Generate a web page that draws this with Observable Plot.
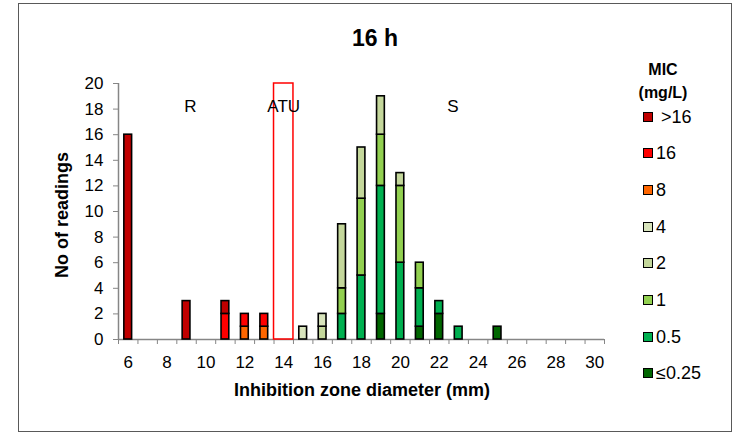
<!DOCTYPE html>
<html><head><meta charset="utf-8">
<script src="https://cdn.jsdelivr.net/npm/d3@7"></script>
<script src="https://cdn.jsdelivr.net/npm/@observablehq/plot@0.6"></script>
<style>
body{margin:0;background:#fff;font-family:Arial,"Liberation Sans",sans-serif;}
#wrap{position:relative;width:738px;height:434px;overflow:hidden;background:#fff}
#wrap svg{position:absolute;left:0;top:0}
.frame{position:absolute;left:18px;top:3px;width:714px;height:429px;box-sizing:border-box;border:1px solid #595959}
.t{position:absolute;white-space:nowrap;color:#000}
.title{left:375px;top:38px;transform:translate(-50%,-50%);font-weight:bold;font-size:23px}
.xt{left:362px;top:390px;transform:translate(-50%,-50%);font-weight:bold;font-size:18px}
.yt{left:62px;top:215px;transform:translate(-50%,-50%) rotate(-90deg);font-weight:bold;font-size:18px}
.lh{left:663px;transform:translate(-50%,-50%);font-weight:bold;font-size:16px}
.li{left:643px;transform:translateY(-50%);font-size:18px;display:flex;align-items:center;line-height:20px}
.sw{display:block;flex:0 0 auto;box-sizing:border-box;width:10px;height:10px;border:1.5px solid #000;margin-right:3px}
</style></head><body><div id="wrap"></div>
<script>
// Inhibition zone diameters (mm) with readings
const diameters = [6, 9, 11, 12, 13, 15, 16, 17, 18, 19, 20, 21, 22, 23, 25];
// number of readings per MIC class (mg/L), aligned with diameters
const micLe025 = [0, 0, 0, 0, 0, 0, 0, 0, 0, 2, 0, 1, 2, 0, 1];
const mic05    = [0, 0, 0, 0, 0, 0, 0, 2, 5, 10, 6, 3, 1, 1, 0];
const mic1     = [0, 0, 0, 0, 0, 0, 0, 2, 6, 4, 6, 2, 0, 0, 0];
const mic2     = [0, 0, 0, 0, 0, 0, 1, 5, 4, 3, 1, 0, 0, 0, 0];
const mic4     = [0, 0, 0, 0, 0, 1, 1, 0, 0, 0, 0, 0, 0, 0, 0];
const mic8     = [0, 0, 0, 1, 1, 0, 0, 0, 0, 0, 0, 0, 0, 0, 0];
const mic16    = [0, 0, 2, 1, 1, 0, 0, 0, 0, 0, 0, 0, 0, 0, 0];
const micGt16  = [16, 3, 1, 0, 0, 0, 0, 0, 0, 0, 0, 0, 0, 0, 0];

// MIC classes, bottom of stack first
const micLabels = ["≤0.25", "0.5", "1", "2", "4", "8", "16", ">16"];
const micSeries = [micLe025, mic05, mic1, mic2, mic4, mic8, mic16, micGt16];
const micColors = ["#006600", "#00b050", "#92d050", "#c4d79b", "#d8e4bc", "#ff6600", "#ff0000", "#c00000"];

// axis ticks
const xTickLabels = [6, 8, 10, 12, 14, 16, 18, 20, 22, 24, 26, 28, 30];
const xCategoryEdges = [5.5, 6.5, 7.5, 8.5, 9.5, 10.5, 11.5, 12.5, 13.5, 14.5, 15.5, 16.5, 17.5, 18.5, 19.5, 20.5, 21.5, 22.5, 23.5, 24.5, 25.5, 26.5, 27.5, 28.5, 29.5, 30.5];
const yTicks = [0, 2, 4, 6, 8, 10, 12, 14, 16, 18, 20];

// breakpoint zones
const atuZone = [{from: 13.5, to: 14.5, bottom: 0, top: 20}];
const zoneLabels = [
  {label: "R", x: 9.2, y: 18.2},
  {label: "ATU", x: 14.0, y: 18.2},
  {label: "S", x: 22.7, y: 18.2}
];

const rows = [];
micLabels.forEach((mic, k) => {
  diameters.forEach((d, i) => {
    const n = micSeries[k][i];
    if (n > 0) rows.push({d, mic, n});
  });
});

const gray = "#868686";
const chart = Plot.plot({
  width: 738, height: 434,
  marginLeft: 118, marginRight: 134, marginTop: 83, marginBottom: 95,
  style: {fontFamily: "Arial, 'Liberation Sans', sans-serif", fontSize: "17px", background: "transparent", color: "#000"},
  x: {domain: [5.5, 30.5]},
  y: {domain: [0, 20]},
  color: {domain: micLabels, range: micColors},
  marks: [
    Plot.axisY({ticks: yTicks, tickSize: 5, tickPadding: 10, stroke: gray, label: null, fontSize: 17}),
    Plot.axisX({ticks: xCategoryEdges, tickSize: 5, tickFormat: () => "", stroke: gray, label: null}),
    Plot.axisX({ticks: xTickLabels, tickSize: 0, tickPadding: 16, label: null, fontSize: 17}),
    Plot.ruleY([0], {stroke: gray, strokeWidth: 1.5}),
    Plot.ruleX([5.5], {y1: 0, y2: 20, stroke: gray, strokeWidth: 1.5}),
    Plot.rectY(rows, {x1: d => d.d - 0.2, x2: d => d.d + 0.2, y: "n", fill: "mic", stroke: "#000", strokeWidth: 1.6}),
    Plot.rect(atuZone, {x1: "from", x2: "to", y1: "bottom", y2: "top", fill: "none", stroke: "#ff0000", strokeWidth: 1.5}),
    Plot.text(zoneLabels, {x: "x", y: "y", text: "label", fontSize: 17, fill: "#000"})
  ]
});

const wrap = document.getElementById("wrap");
wrap.appendChild(chart);

function addText(cls, text, top) {
  const el = document.createElement("div");
  el.className = "t " + cls;
  el.textContent = text;
  if (top != null) el.style.top = top + "px";
  wrap.appendChild(el);
  return el;
}
const frame = document.createElement("div");
frame.className = "frame";
wrap.appendChild(frame);
addText("title", "16 h");
addText("xt", "Inhibition zone diameter (mm)");
addText("yt", "No of readings");
addText("lh", "MIC", 70);
addText("lh", "(mg/L)", 93);
const legendOrder = micLabels.slice().reverse();
legendOrder.forEach((mic, i) => {
  const el = document.createElement("div");
  el.className = "t li";
  el.style.top = (116.7 + i * 36.67) + "px";
  const sw = document.createElement("span");
  sw.className = "sw";
  sw.style.background = micColors[micLabels.indexOf(mic)];
  el.appendChild(sw);
  const tx = document.createElement("span");
  tx.textContent = mic === ">16" ? "\u00a0>16" : mic;
  el.appendChild(tx);
  wrap.appendChild(el);
});
</script></body></html>
